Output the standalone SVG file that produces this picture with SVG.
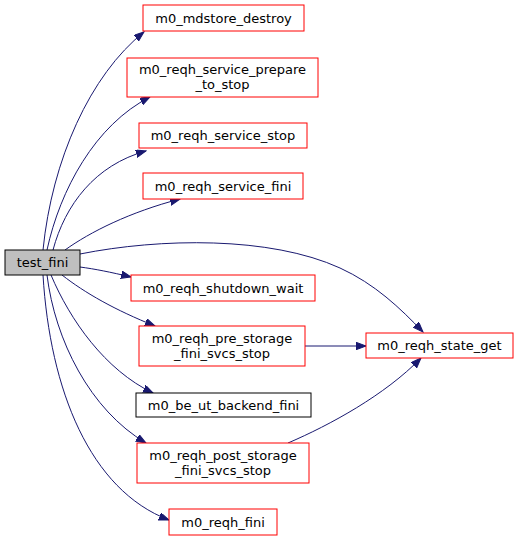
<svg xmlns="http://www.w3.org/2000/svg" width="519" height="541" viewBox="0 0 519 541">
<style>
.n{fill:#ffffff;stroke:#ff0000;stroke-width:1}
.k{fill:#ffffff;stroke:#000000;stroke-width:1}
.r{fill:#bfbfbf;stroke:#000000;stroke-width:1}
text{font-family:"DejaVu Sans","Liberation Sans",sans-serif;font-size:13px;fill:#000000;text-anchor:middle}
.e{fill:none;stroke:#191970;stroke-width:1;marker-end:url(#a)}
</style>
<defs>
<marker id="a" markerWidth="11" markerHeight="8" refX="10" refY="3.75" orient="auto" markerUnits="userSpaceOnUse">
<path d="M0,0 L10,3.75 L0,7.5 z" fill="#191970" stroke="#191970" stroke-width="1"/>
</marker>
</defs>
<rect width="519" height="541" fill="#ffffff"/>
<g id="edges">
<path class="e" d="M43,250 C52,160 90,75 144,32"/>
<path class="e" d="M47,250 C60,190 95,125 150,97"/>
<path class="e" d="M53,250 C65,205 95,165 146,151"/>
<path class="e" d="M65,250 C90,232 130,212 180,199"/>
<path class="e" d="M80,254 C160,238 270,236 340,268 C375,284 400,308 423,332"/>
<path class="e" d="M80,267 C95,269 110,272 131,277"/>
<path class="e" d="M62,275 C85,293 115,310 155,326"/>
<path class="e" d="M51,275 C70,320 105,370 153,393"/>
<path class="e" d="M47,275 C55,340 90,410 146,443"/>
<path class="e" d="M43,275 C50,390 90,490 169,520"/>
<path class="e" d="M305,346 L366,346"/>
<path class="e" d="M288,443 C330,425 385,395 421,358"/>
</g>
<g id="test_fini"><rect class="r" x="5" y="250" width="75" height="25"/><text x="42.5" y="267">test_fini</text></g>
<g id="m0_mdstore_destroy"><rect class="n" x="143" y="5" width="161" height="26"/><text x="223.5" y="22.5">m0_mdstore_destroy</text></g>
<g id="m0_reqh_service_prepare_to_stop"><rect class="n" x="127" y="58" width="191" height="39"/><text x="222.5" y="74">m0_reqh_service_prepare</text><text x="222.5" y="89">_to_stop</text></g>
<g id="m0_reqh_service_stop"><rect class="n" x="139" y="123" width="168" height="25"/><text x="223" y="140">m0_reqh_service_stop</text></g>
<g id="m0_reqh_service_fini"><rect class="n" x="143" y="173" width="160" height="26"/><text x="223" y="190.5">m0_reqh_service_fini</text></g>
<g id="m0_reqh_shutdown_wait"><rect class="n" x="131" y="275" width="184" height="26"/><text x="223" y="292.5">m0_reqh_shutdown_wait</text></g>
<g id="m0_reqh_pre_storage_fini_svcs_stop"><rect class="n" x="139" y="326" width="166" height="40"/><text x="222" y="343">m0_reqh_pre_storage</text><text x="222" y="358">_fini_svcs_stop</text></g>
<g id="m0_be_ut_backend_fini"><rect class="k" x="136" y="393" width="175" height="24"/><text x="223.5" y="409.5">m0_be_ut_backend_fini</text></g>
<g id="m0_reqh_post_storage_fini_svcs_stop"><rect class="n" x="137" y="443" width="172" height="40"/><text x="223" y="460">m0_reqh_post_storage</text><text x="223" y="475">_fini_svcs_stop</text></g>
<g id="m0_reqh_fini"><rect class="n" x="169" y="509" width="108" height="26"/><text x="223" y="526.5">m0_reqh_fini</text></g>
<g id="m0_reqh_state_get"><rect class="n" x="366" y="333" width="147" height="25"/><text x="439.5" y="350">m0_reqh_state_get</text></g>
</svg>
